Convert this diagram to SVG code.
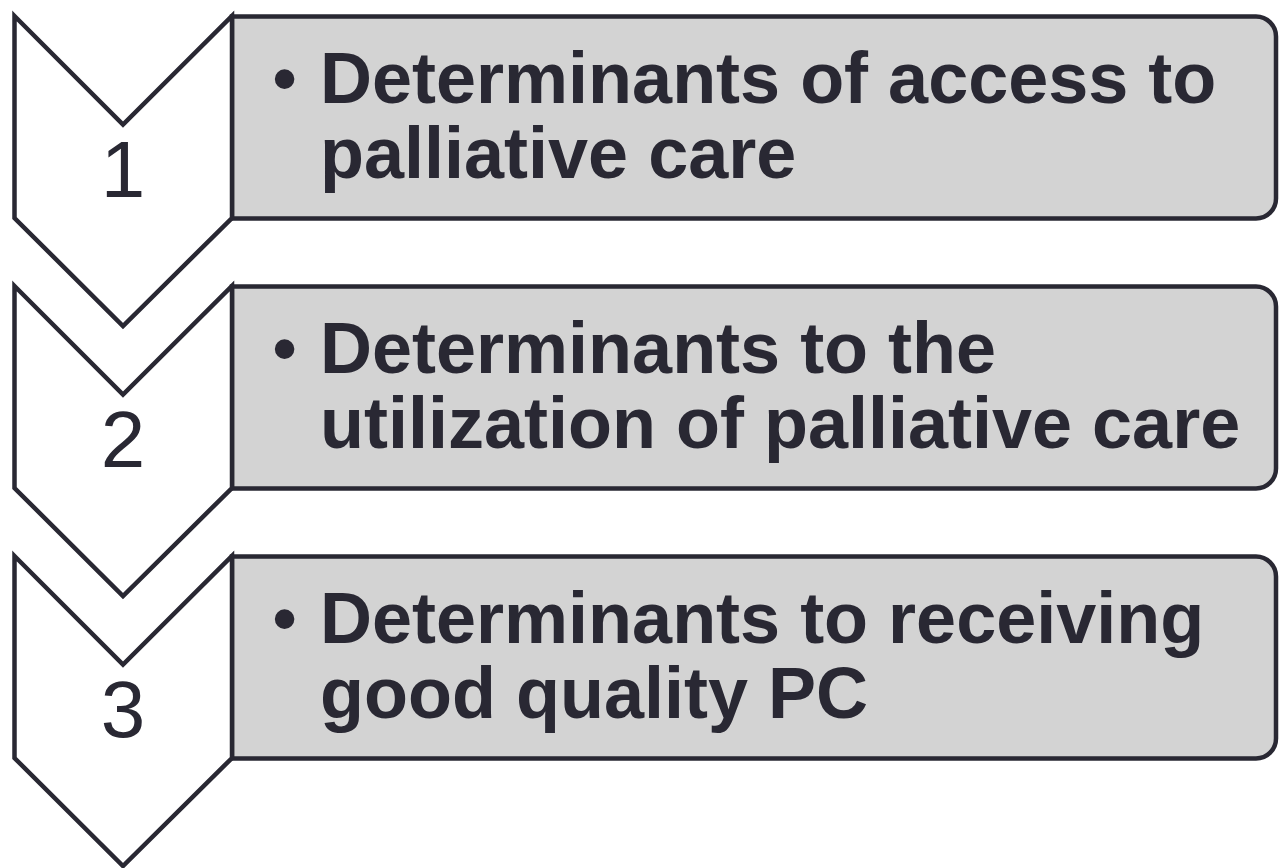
<svg xmlns="http://www.w3.org/2000/svg" width="1280" height="868" viewBox="0 0 1280 868">
  <style>
    .chev { fill: #ffffff; stroke: #292833; stroke-width: 4.5; stroke-linejoin: miter; }
    .box { fill: #d3d3d3; stroke: #292833; stroke-width: 4.5; }
    .num { font-family: "Liberation Sans", Arial, sans-serif; font-size: 80px; fill: #292833; text-anchor: middle; }
    .label { font-family: "Liberation Sans", Arial, sans-serif; font-size: 72px; font-weight: bold; fill: #292833; }
    .bullet { font-family: "Liberation Sans", Arial, sans-serif; font-size: 72px; fill: #292833; }
  </style>
  <defs>
    <!-- downward chevron, top-left corner at origin -->
    <polygon id="chevron" points="0,0 108.5,108.5 217.5,0 217.5,202 108.5,310 0,202"/>
    <!-- text panel with rounded right corners -->
    <path id="panel" d="M232,16.5 H1256 A20,20 0 0 1 1276,36.5 V198.5 A20,20 0 0 1 1256,218.5 H232 Z"/>
  </defs>

  <g id="step-1">
    <use href="#panel" class="box"/>
    <use href="#chevron" class="chev" x="14.5" y="16"/>
    <text class="num" x="123" y="197">1</text>
    <text class="bullet" x="272" y="103">•</text>
    <text class="label" x="320" y="103">Determinants of access to</text>
    <text class="label" x="320" y="178">palliative care</text>
  </g>

  <g id="step-2" transform="translate(0,270)">
    <use href="#panel" class="box"/>
    <use href="#chevron" class="chev" x="14.5" y="16"/>
    <text class="num" x="123" y="197">2</text>
    <text class="bullet" x="272" y="103">•</text>
    <text class="label" x="320" y="103">Determinants to the</text>
    <text class="label" x="320" y="178">utilization of palliative care</text>
  </g>

  <g id="step-3" transform="translate(0,540)">
    <use href="#panel" class="box"/>
    <use href="#chevron" class="chev" x="14.5" y="16"/>
    <text class="num" x="123" y="197">3</text>
    <text class="bullet" x="272" y="103">•</text>
    <text class="label" x="320" y="103">Determinants to receiving</text>
    <text class="label" x="320" y="178">good quality PC</text>
  </g>

  <g id="connectors"/>
</svg>
